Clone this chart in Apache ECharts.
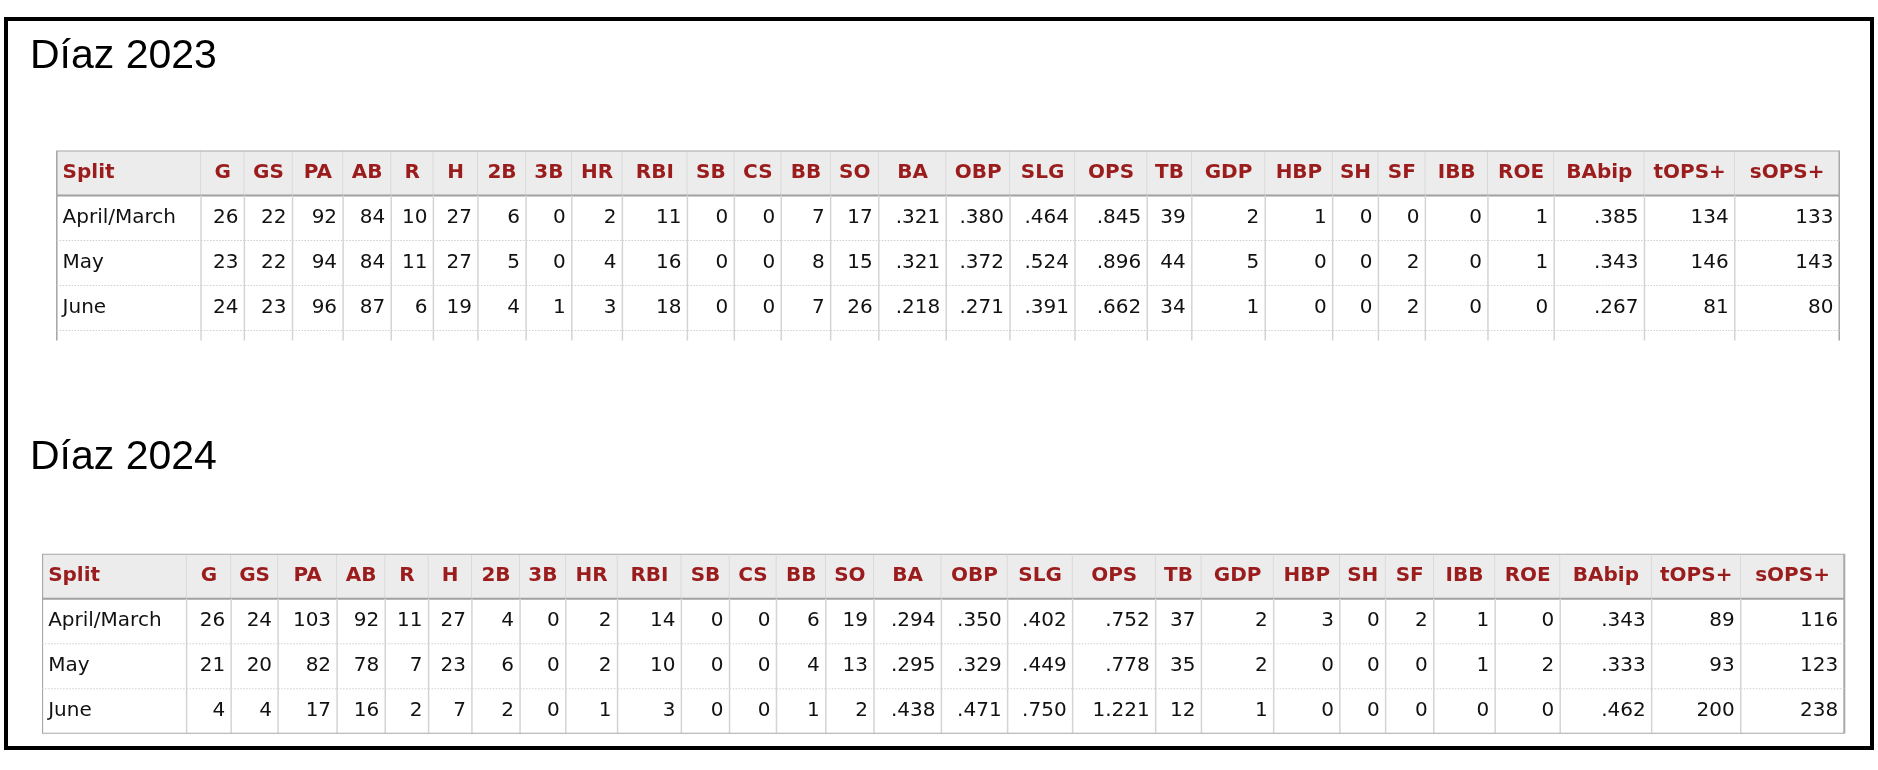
<!DOCTYPE html>
<html>
<head>
<meta charset="utf-8">
<script src="https://cdn.jsdelivr.net/npm/echarts@6/dist/echarts.min.js"></script>
<style>
  html, body { margin: 0; padding: 0; background: #fff; }
  #main { width: 1878px; height: 770px; }
</style>
</head>
<body>
<div id="main"></div>
<script>
const headers = ['Split', 'G', 'GS', 'PA', 'AB', 'R', 'H', '2B', '3B', 'HR', 'RBI', 'SB', 'CS', 'BB', 'SO',
  'BA', 'OBP', 'SLG', 'OPS', 'TB', 'GDP', 'HBP', 'SH', 'SF', 'IBB', 'ROE', 'BAbip', 'tOPS+', 'sOPS+']

const splits = ['April/March', 'May', 'June']

const rows2023 = [
  [26, 22, 92, 84, 10, 27, 6, 0, 2, 11, 0, 0, 7, 17, '.321', '.380', '.464', '.845', 39, 2, 1, 0, 0, 0, 1, '.385', 134, 133],
  [23, 22, 94, 84, 11, 27, 5, 0, 4, 16, 0, 0, 8, 15, '.321', '.372', '.524', '.896', 44, 5, 0, 0, 2, 0, 1, '.343', 146, 143],
  [24, 23, 96, 87, 6, 19, 4, 1, 3, 18, 0, 0, 7, 26, '.218', '.271', '.391', '.662', 34, 1, 0, 0, 2, 0, 0, '.267', 81, 80]
]
const rows2024 = [
  [26, 24, 103, 92, 11, 27, 4, 0, 2, 14, 0, 0, 6, 19, '.294', '.350', '.402', '.752', 37, 2, 3, 0, 2, 1, 0, '.343', 89, 116],
  [21, 20, 82, 78, 7, 23, 6, 0, 2, 10, 0, 0, 4, 13, '.295', '.329', '.449', '.778', 35, 2, 0, 0, 0, 1, 2, '.333', 93, 123],
  [4, 4, 17, 16, 2, 7, 2, 0, 1, 3, 0, 0, 1, 2, '.438', '.471', '.750', '1.221', 12, 1, 0, 0, 0, 0, 0, '.462', 200, 238]
]

// column edges (layout, in table units)
const edges2023 = [47, 167, 203, 243, 285, 325, 360, 397, 437, 475, 517, 571, 610, 649, 690, 730, 786, 839, 893, 953,
  990, 1051, 1107, 1145, 1184, 1236, 1291, 1366, 1441, 1528]
const edges2024 = [35, 155, 192, 231, 280, 320, 356, 392, 432, 470, 513, 566, 606, 645, 686, 726, 782, 837, 891, 960,
  998, 1058, 1113, 1151, 1191, 1242, 1296, 1372, 1446, 1532]

const K = 1878 / 1560
const ROW_H = 45

function buildCells(rows) {
  let cells = []
  headers.forEach((h, c) => cells.push([c, 0, h, 1]))
  rows.forEach((r, i) => {
    cells.push([0, i + 1, splits[i], 0])
    r.forEach((v, j) => cells.push([j + 1, i + 1, String(v), 0]))
  })
  return cells
}

function makeRender(edges, nRows) {
  return function (params, api) {
    const c = api.value(0), r = api.value(1)
    const text = params.context ? null : null
    const item = params.dataIndex
    const p0 = api.coord([edges[c] - edges[0], r])
    const p1 = api.coord([edges[c + 1] - edges[0], r + 1])
    const x0 = p0[0], y0 = p0[1], x1 = p1[0], y1 = p1[1]
    const isHead = r === 0
    const label = this.cells[item][2]
    const children = []
    if (isHead) {
      children.push({ type: 'rect', shape: { x: x0, y: y0, width: x1 - x0, height: y1 - y0 }, style: { fill: '#ececec' } })
    }
    // right vertical line
    children.push({ type: 'line', shape: { x1: x1, y1: y0, x2: x1, y2: y1 },
      style: { stroke: c === headers.length - 1 ? '#a8a8a8' : '#d4d4d4', lineWidth: c === headers.length - 1 ? 2 : 1.5 } })
    if (c === 0) {
      children.push({ type: 'line', shape: { x1: x0, y1: y0, x2: x0, y2: y1 }, style: { stroke: '#a8a8a8', lineWidth: 2 } })
    }
    if (isHead) {
      children.push({ type: 'line', shape: { x1: x0, y1: y0, x2: x1, y2: y0 }, style: { stroke: '#a8a8a8', lineWidth: 2 } })
      children.push({ type: 'line', shape: { x1: x0, y1: y1, x2: x1, y2: y1 }, style: { stroke: '#a0a0a0', lineWidth: 2 } })
    } else if (r === nRows) {
      children.push({ type: 'line', shape: { x1: x0, y1: y1, x2: x1, y2: y1 }, style: { stroke: '#a8a8a8', lineWidth: 2 } })
    } else {
      children.push({ type: 'line', shape: { x1: x0, y1: y1, x2: x1, y2: y1 },
        style: { stroke: '#cfcfcf', lineWidth: 1.2, lineDash: [1.5, 1.5] } })
    }
    let align = 'right', tx = x1 - 6
    if (isHead && c > 0) { align = 'center'; tx = (x0 + x1) / 2 }
    else if (c === 0) { align = 'left'; tx = x0 + 6 }
    children.push({ type: 'text', style: {
      text: label, x: tx, y: (y0 + y1) / 2, align: align, verticalAlign: 'middle',
      font: (isHead ? 'bold ' : '') + '20px "DejaVu Sans", Verdana, sans-serif',
      fill: isHead ? '#9b1c1c' : '#111'
    } })
    return { type: 'group', children: children }
  }
}

function tableSeries(idx, rows, edges, nRows) {
  const cells = buildCells(rows)
  // blank trailing row for a cut-off table
  if (nRows > 3) for (let c = 0; c < headers.length; c++) cells.push([c, 4, '', 0])
  const ctx = { cells: cells }
  return {
    type: 'custom',
    xAxisIndex: idx, yAxisIndex: idx,
    clip: true,
    data: cells.map(d => [d[0], d[1]]),
    renderItem: makeRender(edges, nRows).bind(ctx),
    silent: true
  }
}

const chart = echarts.init(document.getElementById('main'))
const top1 = 125 * K, top2 = 460 * K
const vis1 = 4.22
const option = {
  animation: false,
  backgroundColor: '#fff',
  grid: [
    { left: edges2023[0] * K, width: (edges2023[29] - edges2023[0]) * K, top: top1, height: vis1 * ROW_H },
    { left: edges2024[0] * K, width: (edges2024[29] - edges2024[0]) * K, top: top2, height: 4 * ROW_H }
  ],
  xAxis: [
    { gridIndex: 0, type: 'value', min: 0, max: edges2023[29] - edges2023[0], show: false },
    { gridIndex: 1, type: 'value', min: 0, max: edges2024[29] - edges2024[0], show: false }
  ],
  yAxis: [
    { gridIndex: 0, type: 'value', min: 0, max: vis1, inverse: true, show: false },
    { gridIndex: 1, type: 'value', min: 0, max: 4, inverse: true, show: false }
  ],
  graphic: [
    { type: 'rect', shape: { x: 6, y: 19, width: 1866, height: 729 }, style: { fill: 'none', stroke: '#000', lineWidth: 4 } },
    { type: 'text', left: 30, top: 36, style: { text: 'Díaz 2023', font: '41px "Liberation Sans", Arial, sans-serif', fill: '#000' } },
    { type: 'text', left: 30, top: 437, style: { text: 'Díaz 2024', font: '41px "Liberation Sans", Arial, sans-serif', fill: '#000' } }
  ],
  series: [
    tableSeries(0, rows2023, edges2023, 4),
    tableSeries(1, rows2024, edges2024, 3)
  ]
}
chart.setOption(option)
</script>
</body>
</html>
